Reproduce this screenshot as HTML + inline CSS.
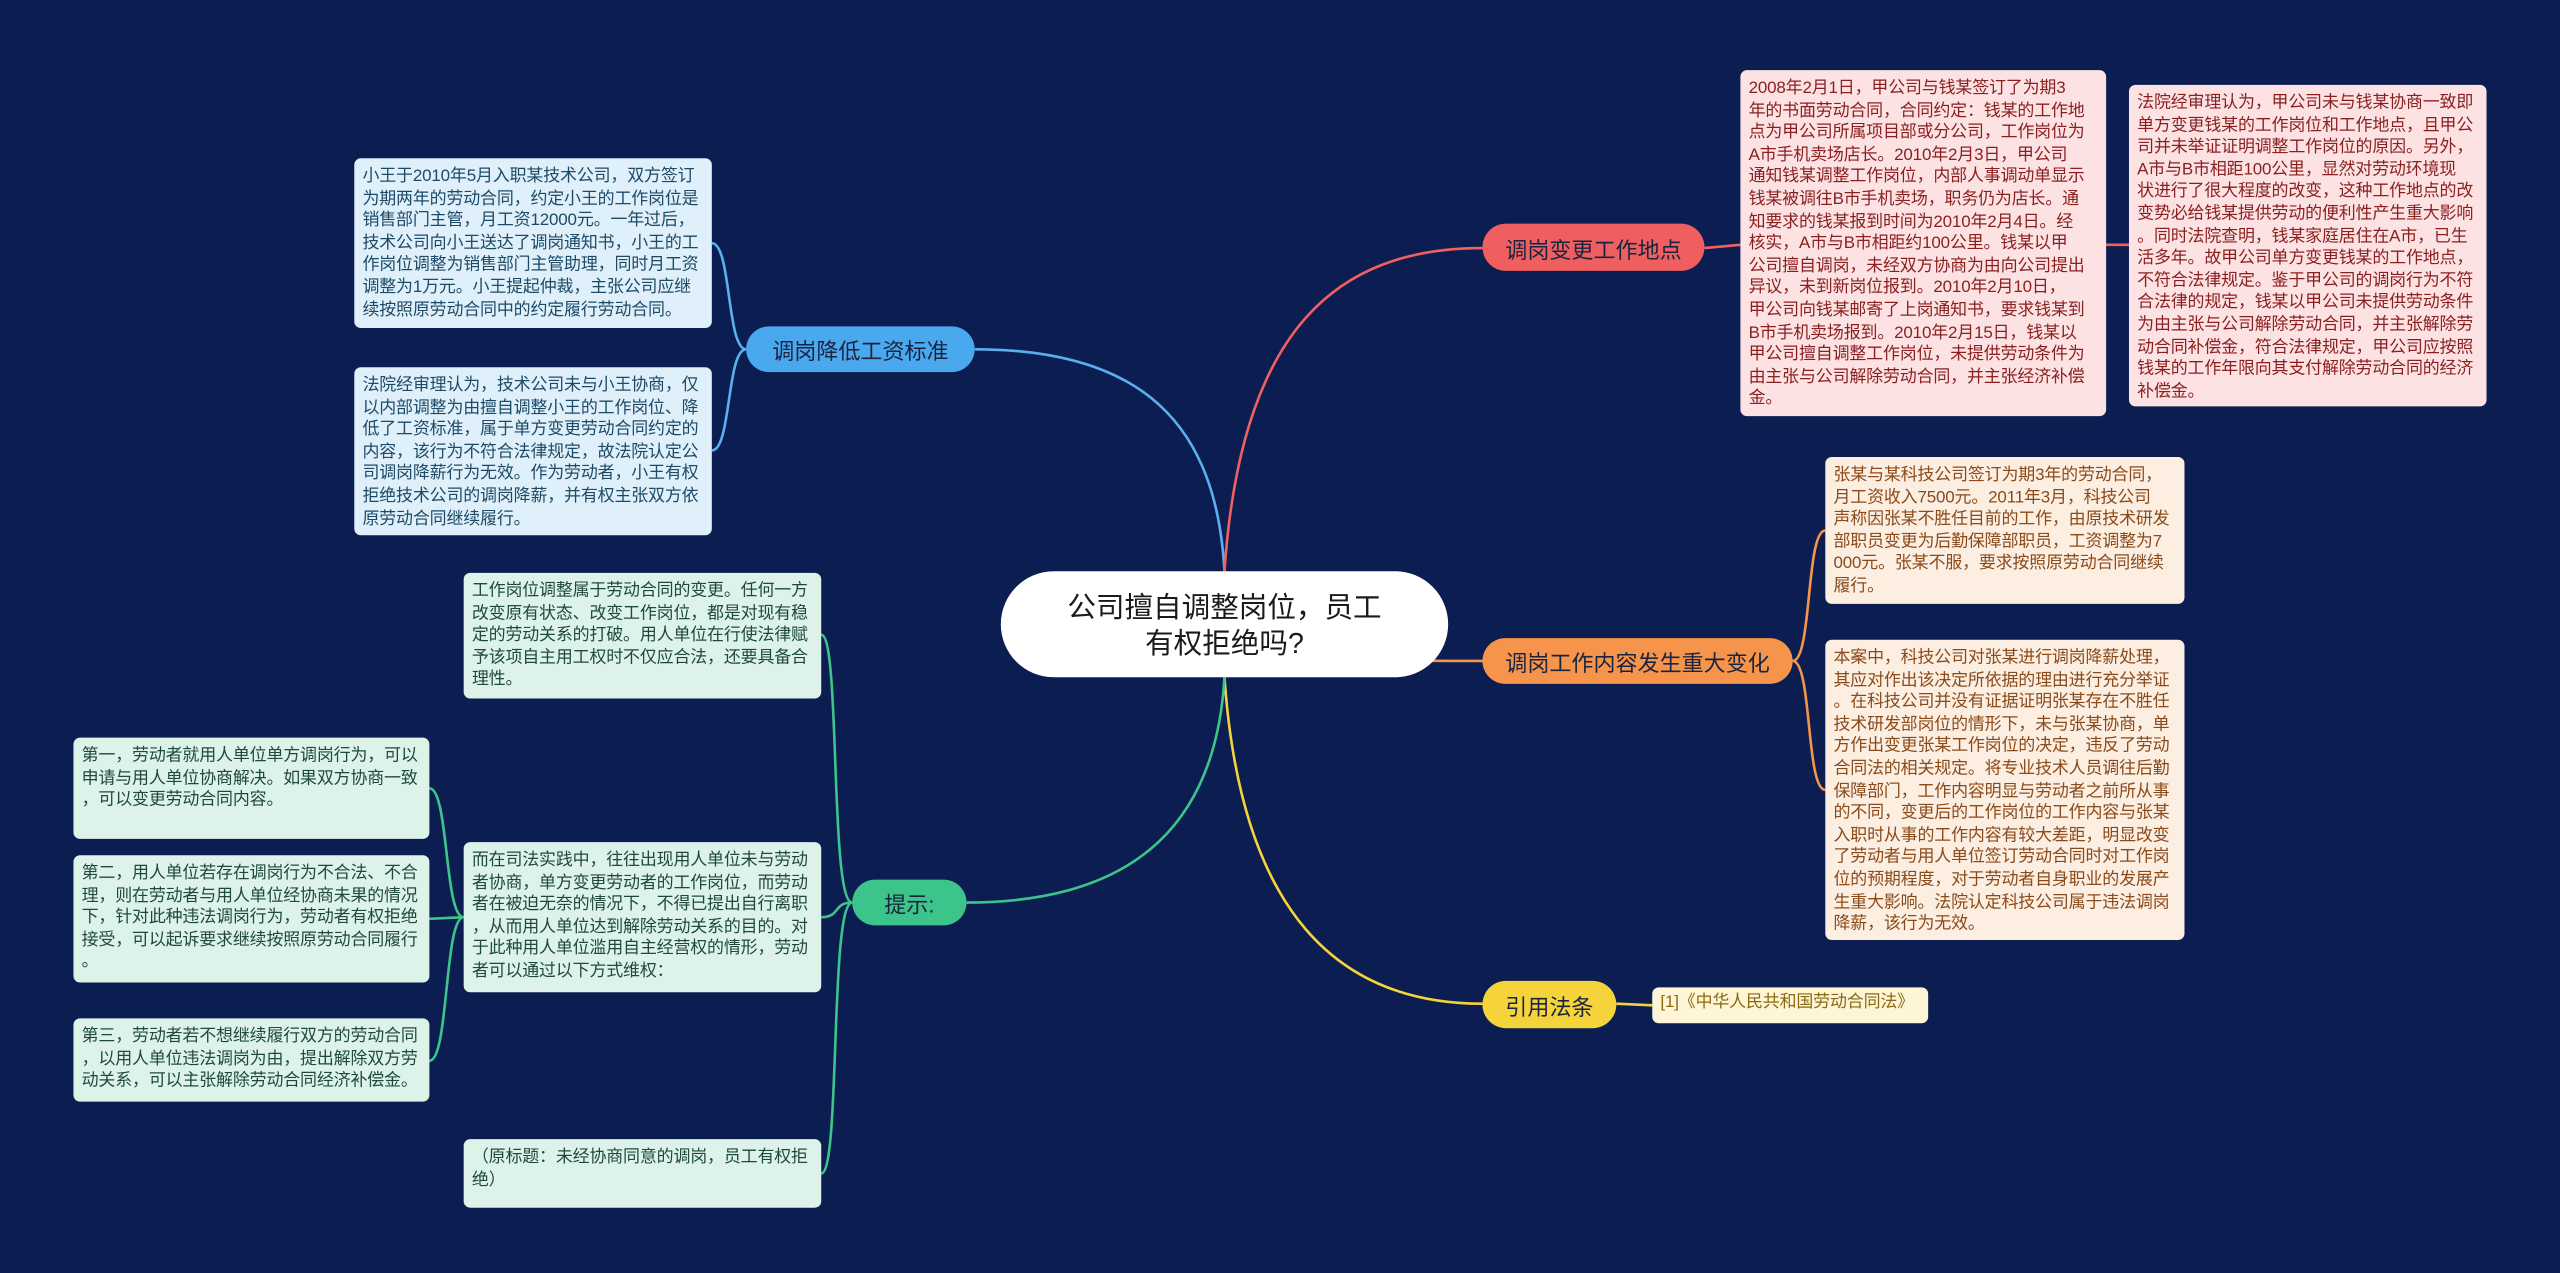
<!DOCTYPE html>
<html><head><meta charset="utf-8">
<style>
html,body{margin:0;padding:0;background:#0b1d51;overflow:hidden;}
#wrap{width:2560px;height:1273px;position:relative;overflow:hidden;background:#0b1d51;}
#stage{position:absolute;left:0;top:0;width:1568px;height:780px;transform:scale(1.63265,1.63205);transform-origin:0 0;font-family:"Liberation Sans","Noto Sans CJK SC",sans-serif;}
.b{position:absolute;box-sizing:border-box;border-radius:4px;padding:5px 3px 4px 5px;font-size:10.4px;line-height:13.6px;white-space:nowrap;overflow:hidden;letter-spacing:-0.1px;}
.bl{background:#dff0fb;color:#1d4a66;}
.rd{background:#fde2e3;color:#8a1f1f;}
.or{background:#fdeee2;color:#8a4a1a;}
.gr{background:#ddf3ea;color:#1f4a3a;}
.p{position:absolute;box-sizing:border-box;border-radius:15px;font-size:13.5px;display:flex;align-items:center;justify-content:center;color:#1a2440;}
svg{position:absolute;left:0;top:0;}
</style></head><body><div id="wrap"><div id="stage">
<svg width="1568" height="780" fill="none" stroke-width="1.6">
<path d="M750 350 C745 260,700 214,597 214" stroke="#5ab0ee"/>
<path d="M750 350 C760 200,820 152,908 152" stroke="#f06060"/>
<path d="M750 383 C800 405,850 405,908 405" stroke="#f5944a"/>
<path d="M750 415 C760 560,820 615,908 615" stroke="#f5d33a"/>
<path d="M750 415 C745 500,700 553,592 553" stroke="#3dc48a"/>
<path d="M457 214 C445 214,448 149,436 149 M457 214 C445 214,448 276,436 276" stroke="#5ab0ee"/>
<path d="M1044 152 L1066 150 M1290 150 L1304 150" stroke="#f06060"/>
<path d="M1098 405 C1110 405,1106 325,1118 325 M1098 405 C1110 405,1106 484,1118 484" stroke="#f5944a"/>
<path d="M990 615 L1012 616" stroke="#f5d33a"/>
<path d="M522 553 C508 553,515 389,503 389 M522 553 C510 553,515 562,503 562 M522 553 C508 553,515 719,503 719" stroke="#3dc48a"/>
<path d="M284 562 C272 562,275 483,263 483 M284 562 L263 563 M284 562 C272 562,275 650,263 650" stroke="#3dc48a"/>
</svg>
<div class="p" style="left:613px;top:350px;width:274px;height:65px;background:#fff;border-radius:33px;font-size:17.5px;line-height:22px;text-align:center;color:#1a1a1a;">公司擅自调整岗位，员工<br>有权拒绝吗?</div>
<div class="p" style="left:457px;top:200px;width:140px;height:28px;background:#4aa8ee;">调岗降低工资标准</div>
<div class="p" style="left:908px;top:137px;width:136px;height:29px;background:#ef5f5f;">调岗变更工作地点</div>
<div class="p" style="left:908px;top:391px;width:190px;height:28px;background:#f5944a;">调岗工作内容发生重大变化</div>
<div class="p" style="left:908px;top:601px;width:82px;height:29px;background:#f5d33a;">引用法条</div>
<div class="p" style="left:522px;top:539px;width:70px;height:28px;background:#3dc48a;">提示:</div>

<div class="b bl" style="left:217px;top:97px;width:219px;height:104px;">小王于2010年5月入职某技术公司，双方签订<br>为期两年的劳动合同，约定小王的工作岗位是<br>销售部门主管，月工资12000元。一年过后，<br>技术公司向小王送达了调岗通知书，小王的工<br>作岗位调整为销售部门主管助理，同时月工资<br>调整为1万元。小王提起仲裁，主张公司应继<br>续按照原劳动合同中的约定履行劳动合同。</div>
<div class="b bl" style="left:217px;top:225px;width:219px;height:103px;">法院经审理认为，技术公司未与小王协商，仅<br>以内部调整为由擅自调整小王的工作岗位、降<br>低了工资标准，属于单方变更劳动合同约定的<br>内容，该行为不符合法律规定，故法院认定公<br>司调岗降薪行为无效。作为劳动者，小王有权<br>拒绝技术公司的调岗降薪，并有权主张双方依<br>原劳动合同继续履行。</div>

<div class="b rd" style="left:1066px;top:43px;width:224px;height:212px;">2008年2月1日，甲公司与钱某签订了为期3<br>年的书面劳动合同，合同约定：钱某的工作地<br>点为甲公司所属项目部或分公司，工作岗位为<br>A市手机卖场店长。2010年2月3日，甲公司<br>通知钱某调整工作岗位，内部人事调动单显示<br>钱某被调往B市手机卖场，职务仍为店长。通<br>知要求的钱某报到时间为2010年2月4日。经<br>核实，A市与B市相距约100公里。钱某以甲<br>公司擅自调岗，未经双方协商为由向公司提出<br>异议，未到新岗位报到。2010年2月10日，<br>甲公司向钱某邮寄了上岗通知书，要求钱某到<br>B市手机卖场报到。2010年2月15日，钱某以<br>甲公司擅自调整工作岗位，未提供劳动条件为<br>由主张与公司解除劳动合同，并主张经济补偿<br>金。</div>
<div class="b rd" style="left:1304px;top:52px;width:219px;height:197px;">法院经审理认为，甲公司未与钱某协商一致即<br>单方变更钱某的工作岗位和工作地点，且甲公<br>司并未举证证明调整工作岗位的原因。另外，<br>A市与B市相距100公里，显然对劳动环境现<br>状进行了很大程度的改变，这种工作地点的改<br>变势必给钱某提供劳动的便利性产生重大影响<br>。同时法院查明，钱某家庭居住在A市，已生<br>活多年。故甲公司单方变更钱某的工作地点，<br>不符合法律规定。鉴于甲公司的调岗行为不符<br>合法律的规定，钱某以甲公司未提供劳动条件<br>为由主张与公司解除劳动合同，并主张解除劳<br>动合同补偿金，符合法律规定，甲公司应按照<br>钱某的工作年限向其支付解除劳动合同的经济<br>补偿金。</div>

<div class="b or" style="left:1118px;top:280px;width:220px;height:90px;">张某与某科技公司签订为期3年的劳动合同，<br>月工资收入7500元。2011年3月，科技公司<br>声称因张某不胜任目前的工作，由原技术研发<br>部职员变更为后勤保障部职员，工资调整为7<br>000元。张某不服，要求按照原劳动合同继续<br>履行。</div>
<div class="b or" style="left:1118px;top:392px;width:220px;height:184px;">本案中，科技公司对张某进行调岗降薪处理，<br>其应对作出该决定所依据的理由进行充分举证<br>。在科技公司并没有证据证明张某存在不胜任<br>技术研发部岗位的情形下，未与张某协商，单<br>方作出变更张某工作岗位的决定，违反了劳动<br>合同法的相关规定。将专业技术人员调往后勤<br>保障部门，工作内容明显与劳动者之前所从事<br>的不同，变更后的工作岗位的工作内容与张某<br>入职时从事的工作内容有较大差距，明显改变<br>了劳动者与用人单位签订劳动合同时对工作岗<br>位的预期程度，对于劳动者自身职业的发展产<br>生重大影响。法院认定科技公司属于违法调岗<br>降薪，该行为无效。</div>

<div class="b" style="left:1012px;top:605px;width:169px;height:22px;background:#fdf5d6;color:#8a6a10;padding:3px 5px;">[1]《中华人民共和国劳动合同法》</div>

<div class="b gr" style="left:284px;top:351px;width:219px;height:77px;">工作岗位调整属于劳动合同的变更。任何一方<br>改变原有状态、改变工作岗位，都是对现有稳<br>定的劳动关系的打破。用人单位在行使法律赋<br>予该项自主用工权时不仅应合法，还要具备合<br>理性。</div>
<div class="b gr" style="left:284px;top:516px;width:219px;height:92px;">而在司法实践中，往往出现用人单位未与劳动<br>者协商，单方变更劳动者的工作岗位，而劳动<br>者在被迫无奈的情况下，不得已提出自行离职<br>，从而用人单位达到解除劳动关系的目的。对<br>于此种用人单位滥用自主经营权的情形，劳动<br>者可以通过以下方式维权：</div>
<div class="b gr" style="left:284px;top:698px;width:219px;height:42px;">（原标题：未经协商同意的调岗，员工有权拒<br>绝）</div>
<div class="b gr" style="left:45px;top:452px;width:218px;height:62px;">第一，劳动者就用人单位单方调岗行为，可以<br>申请与用人单位协商解决。如果双方协商一致<br>，可以变更劳动合同内容。</div>
<div class="b gr" style="left:45px;top:524px;width:218px;height:78px;">第二，用人单位若存在调岗行为不合法、不合<br>理，则在劳动者与用人单位经协商未果的情况<br>下，针对此种违法调岗行为，劳动者有权拒绝<br>接受，可以起诉要求继续按照原劳动合同履行<br>。</div>
<div class="b gr" style="left:45px;top:624px;width:218px;height:51px;">第三，劳动者若不想继续履行双方的劳动合同<br>，以用人单位违法调岗为由，提出解除双方劳<br>动关系，可以主张解除劳动合同经济补偿金。</div>
</div></div></body></html>
